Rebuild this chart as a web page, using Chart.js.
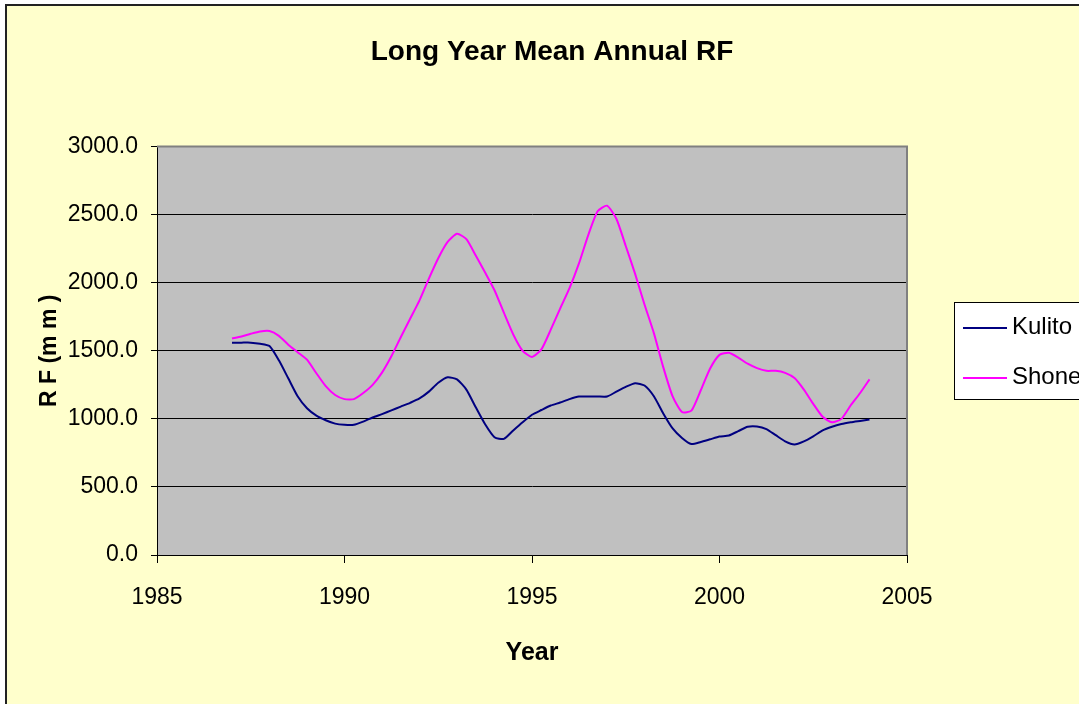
<!DOCTYPE html>
<html>
<head>
<meta charset="utf-8">
<title>Long Year Mean Annual RF</title>
<script src="https://cdn.jsdelivr.net/npm/chart.js@4"></script>
<style>
  html, body { margin: 0; padding: 0; background: #fff; overflow: hidden; }
  #frame {
    position: absolute; left: 5px; top: 4px; width: 1100px; height: 720px;
    background: #FFFFCC; border-left: 2px solid #222; border-top: 2px solid #222;
  }
  #wrap { position: absolute; left: 0; top: 0; width: 1079px; height: 704px; }
</style>
</head>
<body>
<div id="frame"></div>
<div id="wrap"><canvas id="myChart" width="1079" height="704"></canvas></div>
<script>
// values, quarter-year steps
const years = [
  1987.0, 1987.25, 1987.5, 1987.75, 1988.0, 1988.25, 1988.5, 1988.75,
  1989.0, 1989.25, 1989.5, 1989.75, 1990.0, 1990.25, 1990.5, 1990.75,
  1991.0, 1991.25, 1991.5, 1991.75, 1992.0, 1992.25, 1992.5, 1992.75,
  1993.0, 1993.25, 1993.5, 1993.75, 1994.0, 1994.25, 1994.5, 1994.75,
  1995.0, 1995.25, 1995.5, 1995.75, 1996.0, 1996.25, 1996.5, 1996.75,
  1997.0, 1997.25, 1997.5, 1997.75, 1998.0, 1998.25, 1998.5, 1998.75,
  1999.0, 1999.25, 1999.5, 1999.75, 2000.0, 2000.25, 2000.5, 2000.75,
  2001.0, 2001.25, 2001.5, 2001.75, 2002.0, 2002.25, 2002.5, 2002.75,
  2003.0, 2003.25, 2003.5, 2003.75, 2004.0
];

const kulito = [
  1560, 1560, 1560, 1552, 1535, 1430, 1298, 1166,
  1078, 1024, 990, 965, 956, 956, 980, 1010,
  1035, 1062, 1090, 1118, 1150, 1200, 1265, 1305,
  1290, 1215, 1085, 960, 865, 853, 915, 975,
  1030, 1065, 1098, 1120, 1145, 1164, 1164, 1164,
  1164, 1200, 1235, 1262, 1245, 1166, 1040, 930,
  860, 815, 830, 850, 870, 878, 910, 942,
  944, 925, 880, 835, 812, 835, 872, 915,
  942, 962, 975, 985, 995
];

const shone = [
  1590, 1605, 1625, 1642, 1645, 1610, 1545, 1490,
  1435, 1335, 1240, 1175, 1145, 1145, 1190, 1250,
  1340, 1460, 1600, 1735, 1870, 2030, 2180, 2300,
  2360, 2320, 2200, 2075, 1945, 1780, 1620, 1500,
  1455, 1510, 1655, 1810, 1960, 2140, 2350, 2525,
  2566, 2470, 2270, 2065, 1840, 1630, 1380, 1165,
  1050, 1060, 1210, 1370, 1470, 1485, 1450, 1405,
  1373, 1353, 1353, 1338, 1300, 1215, 1110, 1015,
  975, 1000, 1100, 1190, 1290
];

const seriesNames = ['Kulito', 'Shone'];
const xTicks = { min: 1985, max: 2005, step: 5 };
const yTicks = { min: 0, max: 3000, step: 500 };

const FONT = "'Liberation Sans', Arial, sans-serif";

function toPoints(xs, ys) {
    return xs.map((x, i) => ({ x: x, y: ys[i] }));
}

// gray plot area with the darker frame on top and right
const plotArea = {
    id: 'plotArea',
    beforeDraw(chart) {
        const { ctx, chartArea: a } = chart;
        ctx.save();
        ctx.fillStyle = '#C0C0C0';
        ctx.fillRect(a.left, a.top, a.right - a.left, a.bottom - a.top);
        ctx.restore();
    },
    afterDraw(chart) {
        const { ctx, chartArea: a } = chart;
        ctx.save();
        ctx.strokeStyle = '#808080';
        ctx.lineWidth = 2;
        ctx.beginPath();
        ctx.moveTo(a.left, a.top);
        ctx.lineTo(a.right, a.top);
        ctx.lineTo(a.right, a.bottom);
        ctx.stroke();
        ctx.restore();
    }
};

// boxed legend on the right, like the Excel one
const boxLegend = {
    id: 'boxLegend',
    afterDraw(chart) {
        const ctx = chart.ctx;
        ctx.save();
        ctx.fillStyle = '#FFFFFF';
        ctx.strokeStyle = '#000000';
        ctx.lineWidth = 1;
        ctx.fillRect(954.5, 302.5, 200, 97);
        ctx.strokeRect(954.5, 302.5, 200, 97);
        ctx.font = '24px ' + FONT;
        ctx.textBaseline = 'middle';
        ctx.textAlign = 'left';
        chart.data.datasets.forEach((ds, i) => {
            const y = 328 + i * 50;
            ctx.strokeStyle = ds.borderColor;
            ctx.lineWidth = 2;
            ctx.beginPath();
            ctx.moveTo(963, y);
            ctx.lineTo(1007, y);
            ctx.stroke();
            ctx.fillStyle = '#000';
            ctx.fillText(ds.label, 1012, y - 1);
        });
        ctx.restore();
    }
};

function initChart() {
    const ctx = document.getElementById('myChart').getContext('2d');
    return new Chart(ctx, {
        type: 'line',
        data: {
            datasets: [{
                label: seriesNames[0],
                data: toPoints(years, kulito),
                borderColor: '#000080',
                borderWidth: 2,
                pointRadius: 0,
                tension: 0.2,
                fill: false
            }, {
                label: seriesNames[1],
                data: toPoints(years, shone),
                borderColor: '#FF00FF',
                borderWidth: 2,
                pointRadius: 0,
                tension: 0.2,
                fill: false
            }]
        },
        options: {
            responsive: false,
            animation: false,
            devicePixelRatio: 1,
            layout: { padding: { left: 25, right: 0, top: 0, bottom: 0 } },
            plugins: {
                legend: { display: false },
                tooltip: { enabled: false },
                title: {
                    display: true,
                    text: 'Long Year Mean Annual RF',
                    color: '#000',
                    font: { family: FONT, size: 28, weight: 'bold' },
                    padding: { top: 35, bottom: 78 }
                }
            },
            scales: {
                x: {
                    type: 'linear',
                    position: 'bottom',
                    min: xTicks.min,
                    max: xTicks.max,
                    afterFit: s => { s.height = 149; },
                    ticks: {
                        stepSize: xTicks.step,
                        color: '#000',
                        font: { family: FONT, size: 23 },
                        padding: 21,
                        maxRotation: 0,
                        callback: v => String(v)
                    },
                    grid: { drawOnChartArea: false, drawTicks: true, tickLength: 8, color: '#000' },
                    border: { color: '#000', width: 1 },
                    title: {
                        display: true,
                        text: 'Year',
                        color: '#000',
                        font: { family: FONT, size: 25, weight: 'bold' },
                        padding: { top: 0, bottom: 36 }
                    }
                },
                y: {
                    min: yTicks.min,
                    max: yTicks.max,
                    afterFit: s => { s.width = 132; },
                    ticks: {
                        stepSize: yTicks.step,
                        color: '#000',
                        font: { family: FONT, size: 23 },
                        padding: 13,
                        callback: v => v.toFixed(1)
                    },
                    grid: { color: '#000', lineWidth: 1, tickLength: 6 },
                    border: { color: '#000', width: 1 },
                    title: {
                        display: true,
                        text: 'R F (m m )',
                        color: '#000',
                        font: { family: FONT, size: 23, weight: 'bold' },
                        padding: { top: 11, bottom: 0 }
                    }
                },
                // empty right-hand box that keeps room for the legend
                side: {
                    type: 'linear',
                    position: 'right',
                    display: true,
                    afterFit: s => { s.width = 172; },
                    ticks: { display: false },
                    grid: { display: false },
                    border: { display: false }
                }
            }
        },
        plugins: [plotArea, boxLegend]
    });
}

const chart = initChart();
</script>
</body>
</html>
